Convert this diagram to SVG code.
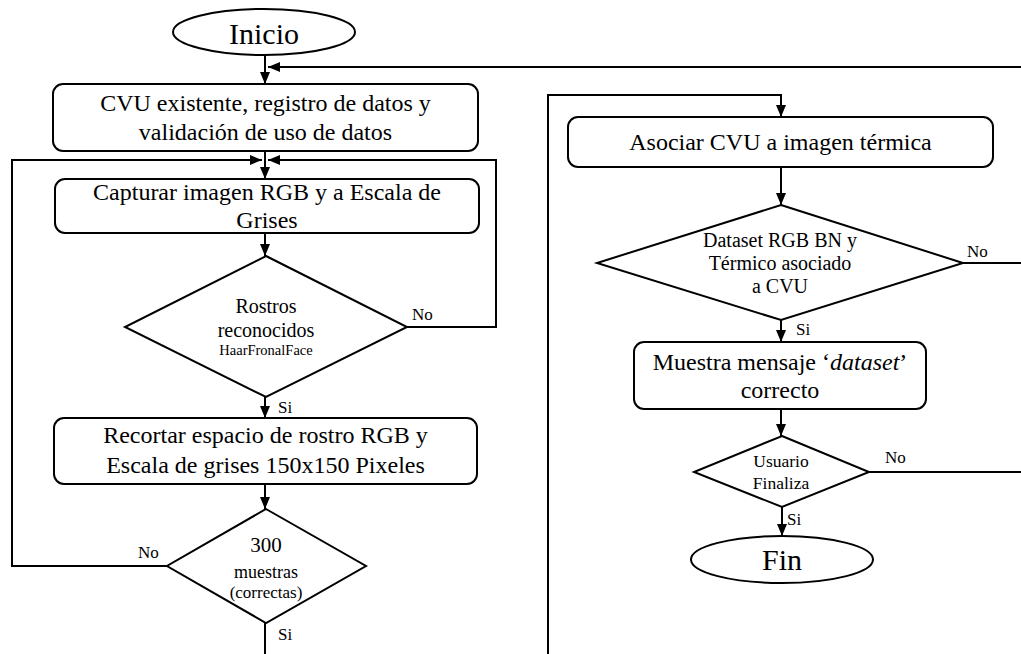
<svg xmlns="http://www.w3.org/2000/svg" width="1021" height="654" viewBox="0 0 1021 654" font-family="Liberation Serif, Times New Roman, serif">
<style>
.s{fill:#fff;stroke:#000;stroke-width:2}
.c{fill:none;stroke:#000;stroke-width:2}
text{font-family:Liberation Serif, Times New Roman, serif;fill:#000}
.t{font-size:24px;text-anchor:middle}
.d{font-size:20px;text-anchor:middle}
.l{font-size:17px}
</style>
<defs>
<marker id="ah" viewBox="0 0 12 10" refX="12" refY="5" markerWidth="12" markerHeight="10" markerUnits="userSpaceOnUse" orient="auto">
<path d="M0,0 L12,5 L0,10 z" fill="#000"/>
</marker>
</defs>
<rect width="1021" height="654" fill="#fff"/>
<g id="connectors">
<path class="c" d="M265 55 V84" marker-end="url(#ah)"/>
<path class="c" d="M1021 67 H268" stroke-width="3" marker-end="url(#ah)"/>
<path class="c" d="M265 151 V179" marker-end="url(#ah)"/>
<path class="c" d="M167 566 H12 V160 H262" marker-end="url(#ah)"/>
<path class="c" d="M407 327 H496 V160 H268" marker-end="url(#ah)"/>
<path class="c" d="M265 233 V256" marker-end="url(#ah)"/>
<path class="c" d="M265 397 V418" marker-end="url(#ah)"/>
<path class="c" d="M265 484 V509" marker-end="url(#ah)"/>
<path class="c" d="M265 623 V654"/>
<path class="c" d="M548 654 V95 H781 V117" marker-end="url(#ah)"/>
<path class="c" d="M781 167 V205" marker-end="url(#ah)"/>
<path class="c" d="M963 263 H1021"/>
<path class="c" d="M781 320 V342" marker-end="url(#ah)"/>
<path class="c" d="M781 409 V436" marker-end="url(#ah)"/>
<path class="c" d="M869 472 H1021"/>
<path class="c" d="M782 507 V536" marker-end="url(#ah)"/>
<text class="l" x="412" y="320">No</text>
<text class="l" x="278" y="413">Si</text>
<text class="l" x="138" y="558">No</text>
<text class="l" x="278" y="640">Si</text>
<text class="l" x="967" y="257">No</text>
<text class="l" x="796" y="335">Si</text>
<text class="l" x="885" y="463">No</text>
<text class="l" x="787" y="525">Si</text>
</g>
<g id="inicio">
<ellipse class="s" cx="264" cy="32" rx="91" ry="23"/>
<text x="264" y="44" font-size="30" text-anchor="middle">Inicio</text>
</g>
<g id="cvu">
<rect class="s" x="53" y="84" width="425" height="67" rx="10"/>
<text class="t" x="265.5" y="111">CVU existente, registro de datos y</text>
<text class="t" x="265.5" y="140">validación de uso de datos</text>
</g>
<g id="capturar">
<rect class="s" x="55" y="179" width="424" height="54" rx="10"/>
<text class="t" x="267" y="200">Capturar imagen RGB y a Escala de</text>
<text class="t" x="267" y="228">Grises</text>
</g>
<g id="rostros">
<polygon class="s" points="266,256 407,327 266,397 125,327"/>
<text class="d" x="266" y="313">Rostros</text>
<text class="d" x="266" y="337">reconocidos</text>
<text x="266" y="355" font-size="14.5" text-anchor="middle">HaarFronalFace</text>
</g>
<g id="recortar">
<rect class="s" x="54" y="418" width="423" height="66" rx="10"/>
<text class="t" x="265.5" y="443">Recortar espacio de rostro RGB y</text>
<text class="t" x="265.5" y="473">Escala de grises 150x150 Pixeles</text>
</g>
<g id="muestras">
<polygon class="s" points="266,509 366,566 266,623 167,566"/>
<text x="266" y="552" font-size="21" text-anchor="middle">300</text>
<text x="266" y="578" font-size="18" text-anchor="middle">muestras</text>
<text x="266" y="598" font-size="17" text-anchor="middle">(correctas)</text>
</g>
<g id="asociar">
<rect class="s" x="568" y="117" width="425" height="50" rx="10"/>
<text class="t" x="780.5" y="150">Asociar CVU a imagen térmica</text>
</g>
<g id="dataset">
<polygon class="s" points="781,205 963,263 781,320 597,263"/>
<text class="d" x="780" y="247">Dataset RGB BN y</text>
<text class="d" x="780" y="270">Térmico asociado</text>
<text class="d" x="780" y="293">a CVU</text>
</g>
<g id="mensaje">
<rect class="s" x="634" y="342" width="292" height="67" rx="10"/>
<text class="t" x="780" y="370">Muestra mensaje ‘<tspan font-style="italic">dataset</tspan>’</text>
<text class="t" x="780" y="398">correcto</text>
</g>
<g id="finaliza">
<polygon class="s" points="782,436 869,472 782,507 694,472"/>
<text x="781" y="467" font-size="17.5" text-anchor="middle">Usuario</text>
<text x="781" y="489" font-size="17.5" text-anchor="middle">Finaliza</text>
</g>
<g id="fin">
<ellipse class="s" cx="782" cy="559.5" rx="91" ry="23.5"/>
<text x="782" y="570" font-size="30" text-anchor="middle">Fin</text>
</g>
</svg>
